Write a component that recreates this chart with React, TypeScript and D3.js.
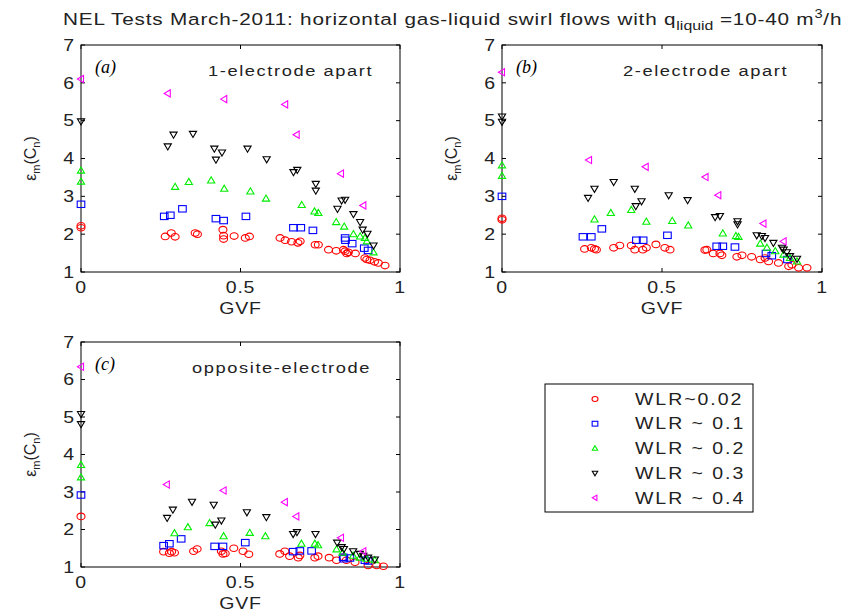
import React from "react";
import * as d3 from "d3";

// ---------- data: [GVF, eps_m(C_n)] ----------
const seriesNames = ["WLR~0.02", "WLR ~ 0.1", "WLR ~ 0.2", "WLR ~ 0.3", "WLR ~ 0.4"];
const xTicks = [0, 0.5, 1];
const yTicks = [1, 2, 3, 4, 5, 6, 7];

const aWlr002: [number, number][] = [
  [0, 2.22], [0, 2.17], [0.264, 1.94], [0.283, 2.03], [0.295, 1.93], [0.358, 2.03], [0.365, 2.0],
  [0.445, 2.12], [0.447, 1.96], [0.447, 1.87], [0.48, 1.95], [0.515, 1.9], [0.528, 1.94],
  [0.624, 1.9], [0.64, 1.84], [0.66, 1.8], [0.68, 1.77], [0.687, 1.81], [0.734, 1.72], [0.744, 1.72],
  [0.776, 1.59], [0.8, 1.56], [0.823, 1.59], [0.828, 1.55], [0.833, 1.49], [0.838, 1.52], [0.86, 1.49],
  [0.89, 1.37], [0.896, 1.33], [0.906, 1.31], [0.92, 1.27], [0.932, 1.24], [0.953, 1.17],
];
const aWlr01: [number, number][] = [
  [0, 2.79], [0.261, 2.47], [0.28, 2.5], [0.318, 2.67], [0.423, 2.41], [0.447, 2.36], [0.517, 2.47],
  [0.666, 2.17], [0.689, 2.17], [0.727, 2.1], [0.828, 1.9], [0.829, 1.84], [0.85, 1.75], [0.888, 1.63], [0.9, 1.57],
];
const aWlr02: [number, number][] = [
  [0, 3.68], [0, 3.39], [0.295, 3.25], [0.338, 3.38], [0.408, 3.42], [0.449, 3.2], [0.531, 3.13], [0.58, 2.94],
  [0.692, 2.77], [0.732, 2.6], [0.744, 2.56], [0.8, 2.32], [0.825, 2.2], [0.854, 2.0], [0.875, 1.94],
  [0.89, 1.9], [0.896, 1.81], [0.917, 1.52],
];
const aWlr03: [number, number][] = [
  [0, 4.98], [0.272, 4.32], [0.29, 4.63], [0.351, 4.65], [0.418, 4.26], [0.423, 3.97], [0.442, 4.16],
  [0.522, 4.26], [0.582, 3.98], [0.666, 3.64], [0.678, 3.7], [0.736, 3.33], [0.736, 3.15], [0.804, 2.67],
  [0.817, 2.89], [0.828, 2.91], [0.854, 2.53], [0.875, 2.32], [0.883, 2.12], [0.898, 2.01], [0.917, 1.7],
];
const aWlr04: [number, number][] = [
  [0, 6.1], [0.272, 5.72], [0.449, 5.57], [0.64, 5.43], [0.676, 4.63], [0.815, 3.6], [0.885, 2.76],
];

const bWlr002: [number, number][] = [
  [0, 2.42], [0, 2.38], [0.258, 1.61], [0.279, 1.64], [0.289, 1.61], [0.295, 1.59], [0.349, 1.64], [0.368, 1.7],
  [0.404, 1.7], [0.415, 1.59], [0.44, 1.59], [0.451, 1.64], [0.481, 1.73], [0.509, 1.64], [0.525, 1.59],
  [0.634, 1.58], [0.64, 1.59], [0.66, 1.49], [0.681, 1.49], [0.687, 1.44], [0.734, 1.4], [0.75, 1.44],
  [0.78, 1.4], [0.807, 1.33], [0.822, 1.37], [0.833, 1.28], [0.864, 1.24], [0.896, 1.15], [0.906, 1.19],
  [0.927, 1.11], [0.953, 1.11],
];
const bWlr01: [number, number][] = [
  [0, 3.0], [0.253, 1.93], [0.279, 1.93], [0.312, 2.14], [0.42, 1.84], [0.441, 1.84], [0.517, 1.97],
  [0.671, 1.68], [0.69, 1.68], [0.728, 1.66], [0.825, 1.49], [0.843, 1.43], [0.892, 1.33],
];
const bWlr02: [number, number][] = [
  [0, 3.82], [0, 3.54], [0.289, 2.39], [0.34, 2.56], [0.404, 2.64], [0.451, 2.33], [0.532, 2.35], [0.582, 2.23],
  [0.69, 2.02], [0.731, 1.95], [0.739, 1.93], [0.807, 1.75], [0.828, 1.64], [0.854, 1.55], [0.88, 1.46],
  [0.9, 1.37], [0.922, 1.28],
];
const bWlr03: [number, number][] = [
  [0, 5.11], [0, 4.97], [0.269, 2.96], [0.289, 3.2], [0.349, 3.38], [0.415, 3.2], [0.418, 2.74], [0.436, 2.87],
  [0.521, 3.03], [0.58, 2.9], [0.666, 2.45], [0.681, 2.48], [0.736, 2.34], [0.736, 2.26], [0.796, 1.97],
  [0.812, 1.95], [0.822, 1.9], [0.848, 1.77], [0.875, 1.64], [0.88, 1.59], [0.89, 1.52], [0.9, 1.42], [0.922, 1.35],
];
const bWlr04: [number, number][] = [
  [0, 6.28], [0.272, 3.96], [0.449, 3.78], [0.636, 3.51], [0.676, 3.03], [0.817, 2.28], [0.88, 1.81],
];

const cWlr002: [number, number][] = [
  [0, 2.35], [0.259, 1.41], [0.277, 1.37], [0.284, 1.41], [0.293, 1.38], [0.353, 1.42], [0.364, 1.48],
  [0.44, 1.42], [0.445, 1.35], [0.452, 1.36], [0.479, 1.5], [0.508, 1.42], [0.526, 1.34], [0.623, 1.35],
  [0.639, 1.42], [0.654, 1.29], [0.681, 1.25], [0.686, 1.31], [0.733, 1.25], [0.743, 1.29], [0.778, 1.25],
  [0.801, 1.18], [0.822, 1.26], [0.832, 1.18], [0.859, 1.13], [0.9, 1.04], [0.927, 1.04], [0.948, 1.02],
];
const cWlr01: [number, number][] = [
  [0, 2.92], [0.259, 1.57], [0.277, 1.62], [0.314, 1.75], [0.419, 1.55], [0.445, 1.55], [0.515, 1.65],
  [0.665, 1.41], [0.686, 1.43], [0.723, 1.43], [0.822, 1.26], [0.824, 1.22], [0.843, 1.24], [0.89, 1.18], [0.9, 1.16],
];
const cWlr02: [number, number][] = [
  [0, 3.72], [0, 3.39], [0.293, 1.9], [0.335, 2.06], [0.403, 2.17], [0.447, 1.82], [0.529, 1.91], [0.578, 1.82],
  [0.691, 1.62], [0.733, 1.62], [0.743, 1.58], [0.801, 1.47], [0.82, 1.38], [0.853, 1.3], [0.874, 1.25],
  [0.895, 1.22], [0.921, 1.18],
];
const cWlr03: [number, number][] = [
  [0, 5.08], [0, 4.81], [0.27, 2.31], [0.288, 2.53], [0.348, 2.74], [0.416, 2.66], [0.421, 2.13], [0.44, 2.24],
  [0.52, 2.46], [0.581, 2.33], [0.665, 1.88], [0.677, 1.93], [0.735, 1.88], [0.803, 1.65], [0.817, 1.53],
  [0.824, 1.48], [0.853, 1.42], [0.874, 1.35], [0.885, 1.3], [0.9, 1.25], [0.921, 1.2],
];
const cWlr04: [number, number][] = [
  [0, 6.34], [0.269, 3.2], [0.447, 3.04], [0.639, 2.73], [0.675, 2.35], [0.815, 1.78], [0.885, 1.42],
];

// ---------- styling ----------
const colors = ["#ff0000", "#0000ff", "#00ee00", "#000000", "#ff00ff"];
const SANS = "'Liberation Sans', Arial, sans-serif";
const STRETCH = 1.22;

type Shape = "circle" | "square" | "up" | "down" | "left";
const shapes: Shape[] = ["circle", "square", "up", "down", "left"];

function SText({ x, y, anchor = "start", size = 16, ls = 0.6, children, dy }: any) {
  return (
    <g transform={`translate(${x},${y}) scale(${STRETCH},1)`}>
      <text x={0} y={0} dy={dy} textAnchor={anchor} fontSize={size} fontFamily={SANS} fill="#222" letterSpacing={ls}>
        {children}
      </text>
    </g>
  );
}

function Marker({ shape, x, y, color, s = 1 }: { shape: Shape; x: number; y: number; color: string; s?: number }) {
  const common = { fill: "none", stroke: color, strokeWidth: 1.1 };
  if (shape === "circle") return <ellipse cx={x} cy={y} rx={4 * s} ry={3.3 * s} {...common} />;
  if (shape === "square") return <rect x={x - 3.8 * s} y={y - 3.2 * s} width={7.6 * s} height={6.4 * s} {...common} />;
  const r = 3.6 * s;
  let pts: [number, number][];
  if (shape === "up") pts = [[x, y - r], [x + r, y + r * 0.7], [x - r, y + r * 0.7]];
  else if (shape === "down") pts = [[x, y + r], [x + r, y - r * 0.7], [x - r, y - r * 0.7]];
  else pts = [[x - r, y], [x + r * 0.7, y - r], [x + r * 0.7, y + r]];
  return <polygon points={pts.map((p) => p.join(",")).join(" ")} {...common} />;
}

type PanelProps = {
  left: number; top: number; width: number; height: number;
  tag: string; label: string; labelX: number;
  series: [number, number][][];
};

function Panel({ left, top, width, height, tag, label, labelX, series }: PanelProps) {
  const x = d3.scaleLinear().domain([0, 1]).range([left, left + width]);
  const y = d3.scaleLinear().domain([1, 7]).range([top + height, top]);
  const tl = 4;
  return (
    <g>
      <rect x={left} y={top} width={width} height={height} fill="none" stroke="#000" strokeWidth={1} />
      {yTicks.map((t) => (
        <g key={"y" + t}>
          <line x1={left} x2={left + tl} y1={y(t)} y2={y(t)} stroke="#000" />
          <line x1={left + width} x2={left + width - tl} y1={y(t)} y2={y(t)} stroke="#000" />
          <SText x={left - 7} y={y(t)} dy="0.36em" anchor="end" size={16} ls={0}>
            {t}
          </SText>
        </g>
      ))}
      {xTicks.map((t) => (
        <g key={"x" + t}>
          <line x1={x(t)} x2={x(t)} y1={top + height} y2={top + height - tl} stroke="#000" />
          <line x1={x(t)} x2={x(t)} y1={top} y2={top + tl} stroke="#000" />
          <SText x={x(t)} y={top + height + 21} anchor="middle" size={16}>
            {t}
          </SText>
        </g>
      ))}
      <SText x={left + width / 2} y={top + height + 42} anchor="middle" size={16}>
        GVF
      </SText>
      <text transform={`translate(${left - 45},${top + height / 2}) rotate(-90)`} textAnchor="middle" fontSize={16} fontFamily={SANS} fill="#222">
        ε<tspan fontSize={11} dy={4}>m</tspan><tspan dy={-4}>(C</tspan><tspan fontSize={11} dy={4}>n</tspan><tspan dy={-4}>)</tspan>
      </text>
      <text x={left + 14} y={top + 28} fontSize={18} fontFamily="'Liberation Serif', 'Times New Roman', serif" fontStyle="italic" fill="#000">
        ({tag})
      </text>
      <SText x={labelX} y={top + 31} size={15} ls={1.3}>
        {label}
      </SText>
      {series.map((pts, si) =>
        pts.map((p, i) => <Marker key={si + "-" + i} shape={shapes[si]} x={x(p[0])} y={y(p[1])} color={colors[si]} />)
      )}
    </g>
  );
}

export default function App() {
  const legendTop = 384;
  const legendLeft = 545;
  return (
    <svg width={850} height={612} style={{ position: "absolute", left: 0, top: 0, background: "#fff" }}>
      <rect width={850} height={612} fill="#fff" />
      <SText x={63} y={25} size={17} ls={0.65}>
        NEL Tests March-2011: horizontal gas-liquid swirl flows with q
        <tspan fontSize={13} dy={5} letterSpacing={0}>liquid</tspan>
        <tspan dy={-5}> =10-40 m</tspan>
        <tspan fontSize={12} dy={-7}>3</tspan>
        <tspan dy={7}>/h</tspan>
      </SText>
      <Panel left={81} top={45} width={319} height={227} tag="a" label="1-electrode apart" labelX={208} series={[aWlr002, aWlr01, aWlr02, aWlr03, aWlr04]} />
      <Panel left={502} top={45} width={320} height={227} tag="b" label="2-electrode apart" labelX={623} series={[bWlr002, bWlr01, bWlr02, bWlr03, bWlr04]} />
      <Panel left={81} top={342} width={319} height={225} tag="c" label="opposite-electrode" labelX={192} series={[cWlr002, cWlr01, cWlr02, cWlr03, cWlr04]} />
      <rect x={legendLeft} y={legendTop} width={208} height={128} fill="#fff" stroke="#000" strokeWidth={1} />
      {seriesNames.map((n, i) => (
        <g key={n}>
          <Marker shape={shapes[i]} x={595} y={legendTop + 15 + i * 24.7} color={colors[i]} s={0.75} />
          <SText x={635} y={legendTop + 15 + i * 24.7} dy="0.36em" size={16} ls={1.6}>
            {n}
          </SText>
        </g>
      ))}
    </svg>
  );
}
